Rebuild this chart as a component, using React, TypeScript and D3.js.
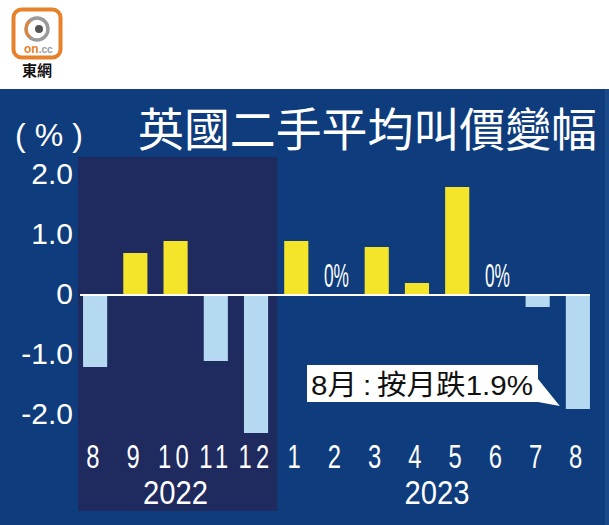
import React from "react";
import * as d3 from "d3";

const months: string[] = ["8", "9", "10", "11", "12", "1", "2", "3", "4", "5", "6", "7", "8"];
const years: string[] = ["2022", "2023"];
const yearOfMonth: number[] = [0, 0, 0, 0, 0, 1, 1, 1, 1, 1, 1, 1, 1];
const changes: number[] = [-1.2, 0.7, 0.9, -1.1, -2.3, 0.9, 0, 0.8, 0.2, 1.8, 0, -0.2, -1.9];
const yTicks: number[] = [2, 1, 0, -1, -2];
const yTickLabels: string[] = ["2.0", "1.0", "0", "-1.0", "-2.0"];
const title = "英國二手平均叫價變幅";
const unitLabel = "(%)";
const zeroLabel = "0%";
const calloutText = "8月\u2009:\u2009按月跌1.9%";

const W = 609;
const H = 525;
const BG = "#0e3c7c";
const SHADE = "#1f2a5e";
const YELLOW = "#f4e52a";
const LIGHT = "#b4d9f1";
const CJK = "'Noto Sans CJK TC', 'Noto Sans CJK SC', sans-serif";
const SANS = "'Liberation Sans', Arial, sans-serif";

export default function App() {
  const x = d3
    .scaleBand<number>()
    .domain(d3.range(months.length))
    .range([75, 598])
    .paddingInner(0.4)
    .paddingOuter(0.2);
  const y = d3.scaleLinear().domain([-2, 2]).range([415, 175]);
  const bw = x.bandwidth();
  const step = x.step();

  const cx = (i: number) => (x(i) as number) + bw / 2;

  const idx2022 = d3.range(months.length).filter((i) => yearOfMonth[i] === 0);
  const idx2023 = d3.range(months.length).filter((i) => yearOfMonth[i] === 1);
  const shadeX0 = (x(idx2022[0]) as number) - 5;
  const shadeX1 = cx(idx2022[idx2022.length - 1]) + step / 2 + 1;

  const lastI = months.length - 1;
  const lastBarX = x(lastI) as number;
  const lastBarBottom = y(changes[lastI]);

  const cbX0 = 307;
  const cbX1 = 538;
  const cbY0 = 365;
  const cbY1 = 402;

  return (
    <svg
      width={W}
      height={H}
      style={{ position: "absolute", left: 0, top: 0, display: "block" }}
    >
      <rect x={0} y={0} width={W} height={H} fill="#ffffff" />
      <g>
        <rect x={13.5} y={9.5} width={47} height={48} rx={8} fill="#fff" stroke="#e8812c" strokeWidth={4} />
        <circle cx={37} cy={29} r={11} fill="none" stroke="#9a9a9a" strokeWidth={3.5} />
        <path d="M 30 21 A 10 10 0 0 0 30 37" fill="none" stroke="#e8812c" strokeWidth={2.5} />
        <circle cx={39} cy={29} r={4} fill="#555" />
        <text x={24} y={53} fontFamily={SANS} fontWeight="bold" fontSize={12} fill="#e8812c">
          on
          <tspan fill="#9a9a9a" fontSize={10}>.cc</tspan>
        </text>
        <text x={37} y={76} textAnchor="middle" fontFamily={CJK} fontWeight="bold" fontSize={15} fill="#111">
          東網
        </text>
      </g>

      <rect x={0} y={89} width={W} height={H - 89} fill={BG} />
      <rect x={605} y={89} width={4} height={H - 89} fill="#1a4a8a" />
      <rect x={shadeX0} y={157} width={shadeX1 - shadeX0} height={511 - 157} fill={SHADE} />

      <text
        x={15}
        y={146}
        fontFamily={SANS}
        fontSize={32}
        fill="#fff"
        textLength={68}
        lengthAdjust="spacing"
      >
        {unitLabel}
      </text>
      <text
        x={138}
        y={146}
        fontFamily={CJK}
        fontSize={46}
        fill="#fff"
        textLength={459}
        lengthAdjust="spacingAndGlyphs"
      >
        {title}
      </text>

      {yTicks.map((t, i) => (
        <text
          key={"yt" + i}
          x={73}
          y={y(t) - 2}
          dy="0.36em"
          textAnchor="end"
          fontFamily={SANS}
          fontSize={30}
          fill="#fff"
        >
          {yTickLabels[i]}
        </text>
      ))}

      {changes.map((v, i) =>
        v === 0 ? (
          <text
            key={"z" + i}
            x={cx(i)}
            y={287}
            textAnchor="middle"
            fontFamily={SANS}
            fontSize={33}
            fill="#fff"
            textLength={25}
            lengthAdjust="spacingAndGlyphs"
          >
            {zeroLabel}
          </text>
        ) : (
          <rect
            key={"b" + i}
            x={x(i)}
            y={Math.min(y(v), y(0))}
            width={bw}
            height={Math.abs(y(v) - y(0))}
            fill={v > 0 ? YELLOW : LIGHT}
          />
        )
      )}

      <line
        x1={(x(0) as number) - 3}
        x2={lastBarX + bw}
        y1={y(0)}
        y2={y(0)}
        stroke="#fff"
        strokeWidth={2}
      />

      {months.map((m, i) => (
        <text
          key={"xl" + i}
          transform={`translate(${cx(i)},468) scale(0.72,1)`}
          textAnchor="middle"
          fontFamily={SANS}
          fontSize={33}
          letterSpacing={6}
          fill="#fff"
        >
          {m}
        </text>
      ))}
      {years.map((yr, k) => {
        const ids = k === 0 ? idx2022 : idx2023;
        const c = (cx(ids[0]) + cx(ids[ids.length - 1])) / 2;
        return (
          <text
            key={"yr" + k}
            x={c - 32.5}
            y={504}
            fontFamily={SANS}
            fontSize={33}
            fill="#fff"
            textLength={65}
            lengthAdjust="spacingAndGlyphs"
          >
            {yr}
          </text>
        );
      })}

      <path
        d={`M ${cbX0} ${cbY0} L ${cbX1} ${cbY0} L ${cbX1} ${cbY0 + 14} L ${lastBarX - 6} ${lastBarBottom - 3} L ${cbX1} ${cbY1} L ${cbX0} ${cbY1} Z`}
        fill="#fff"
      />
      <text
        x={311}
        y={395}
        fontFamily={`'Liberation Sans', ${CJK}`}
        fontSize={28}
        fill="#111"
        textLength={222}
        lengthAdjust="spacingAndGlyphs"
      >
        {calloutText}
      </text>
    </svg>
  );
}
